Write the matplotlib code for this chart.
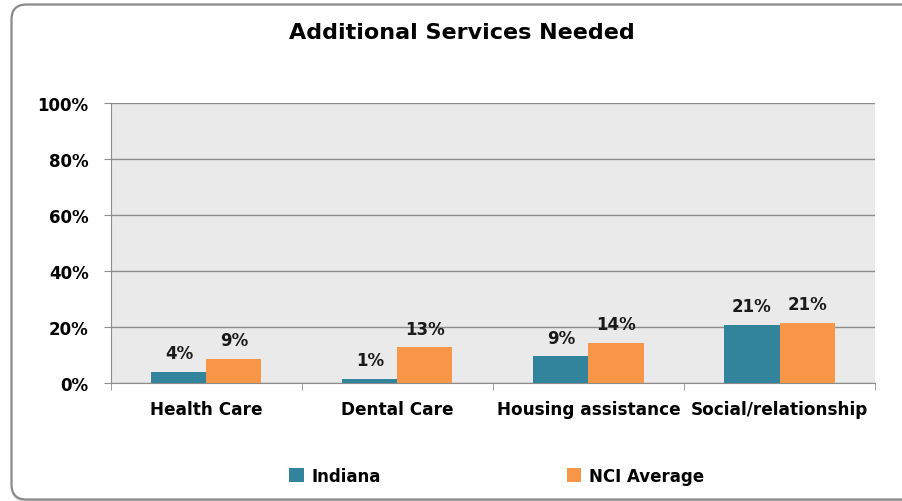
import numpy as np
import matplotlib.pyplot as plt
from matplotlib.patches import FancyBboxPatch

categories = ['Health Care', 'Dental Care', 'Housing assistance', 'Social/relationship']
indiana = [4.0, 1.4, 9.5, 20.8]
nci_avg = [8.6, 12.7, 14.4, 21.5]
indiana_labels = ['4%', '1%', '9%', '21%']
nci_labels = ['9%', '13%', '14%', '21%']
yticks = [0, 20, 40, 60, 80, 100]

plt.rcParams['font.family'] = ['DejaVu Sans']

fig = plt.figure(figsize=(9.03, 5.02), dpi=100)

# rounded frame round the chart (inches), with a light shadow
shadow = FancyBboxPatch((0.13, 0.0), 9.1, 4.95, boxstyle='round,pad=0,rounding_size=0.15',
                        transform=fig.dpi_scale_trans, facecolor='none', edgecolor='#d8d8d8',
                        linewidth=2.5, zorder=0)
frame = FancyBboxPatch((0.115, 0.015), 9.1, 4.95, boxstyle='round,pad=0,rounding_size=0.15',
                       transform=fig.dpi_scale_trans, facecolor='white', edgecolor='#8a8a8a',
                       linewidth=1.6, zorder=1)
fig.patches.extend([shadow, frame])

ax = fig.add_axes([0.1229, 0.2351, 0.8461, 0.5578])
ax.set_zorder(2)
ax.set_facecolor('#eaeaea')

x = np.arange(len(categories))
w = 0.288
b1 = ax.bar(x - w / 2, indiana, w, color='#31849b', label='Indiana', zorder=3)
b2 = ax.bar(x + w / 2, nci_avg, w, color='#f79646', label='NCI Average', zorder=3)

for bars, labs in ((b1, indiana_labels), (b2, nci_labels)):
    for r, t in zip(bars, labs):
        ax.annotate(t, (r.get_x() + r.get_width() / 2, r.get_height()), xytext=(0, 7),
                    textcoords='offset points', ha='center', va='bottom',
                    fontsize=12, fontweight='bold', color='#1a1a1a')

ax.set_xlim(-0.5, len(categories) - 0.5)
ax.set_ylim(0, 100)
ax.set_yticks(yticks)
ax.set_yticklabels([f'{v}%' for v in yticks], fontsize=12, fontweight='bold')
ax.yaxis.grid(True, color='#8c8c8c', linewidth=1, zorder=1)
ax.set_axisbelow(True)

ax.set_xticks(x)
ax.set_xticklabels(categories, fontsize=12.2, fontweight='bold')
ax.set_xticks(np.arange(len(categories) + 1) - 0.5, minor=True)
ax.tick_params(axis='x', which='major', length=0, pad=12)
ax.tick_params(axis='x', which='minor', length=5, color='#8c8c8c')
ax.tick_params(axis='y', length=5, color='#8c8c8c', pad=11)

for s in ['top', 'right']:
    ax.spines[s].set_visible(False)
ax.spines['left'].set_color('#8c8c8c')
ax.spines['bottom'].set_color('#8c8c8c')

fig.text(0.512, 0.934, 'Additional Services Needed', ha='center', va='center',
         fontsize=16, fontweight='bold', zorder=3)

fig.legend(handles=[b1, b2], loc='center', bbox_to_anchor=(0.55, 0.05), ncol=2,
           frameon=False, prop={'weight': 'bold', 'size': 12},
           handlelength=0.85, handleheight=0.85, columnspacing=11.2, handletextpad=0.45)

fig.savefig('out.png', dpi=100)
